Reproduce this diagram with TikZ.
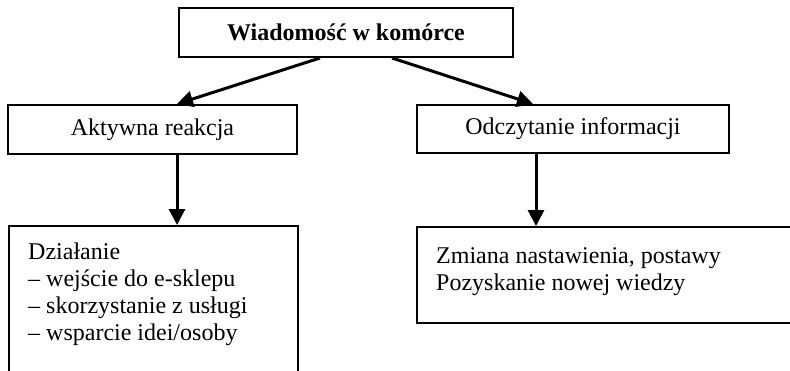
\documentclass[tikz,border=0pt]{standalone}
\usepackage{fontspec}
\setmainfont{Liberation Serif}
\usetikzlibrary{arrows.meta}
\usetikzlibrary{positioning}

\begin{document}
\begin{tikzpicture}[x=1pt,y=-1pt,
        box/.style={draw,line width=2pt,inner sep=0pt},
        txt/.style={align=left,inner sep=0pt,font=\fontsize{24}{27}\selectfont},
        arr/.style={line width=3pt,-{Triangle[length=16pt,width=16pt]}}]
                \useasboundingbox (0,0) rectangle (790,370);
                \clip (0,0) rectangle (790,370);
                \node[box,minimum width=334pt,minimum height=49pt,font=\fontsize{24}{27}\selectfont\bfseries] (msg) at (346,32.5) {Wiadomość w komórce};
                \node[box,minimum width=289pt,minimum height=49pt,font=\fontsize{24}{27}\selectfont] (akt) at (152.5,129.5) {Aktywna reakcja};
                \node[box,minimum width=312pt,minimum height=48pt,font=\fontsize{24}{27}\selectfont] (odc) at (573,129) {Odczytanie informacji};
                \node[box,minimum width=289pt,minimum height=170pt,anchor=north west] (act) at (8,225) {};
                \node[box,minimum width=390pt,minimum height=96pt,anchor=north west] (chg) at (416,226) {};
                \node[txt,anchor=north west] (act_txt) [below right=18pt and 20pt of act.north west] {Działanie\\– wejście do e-sklepu\\– skorzystanie z usługi\\– wsparcie idei/osoby};
                \node[txt,anchor=north west] (chg_txt) [below right=21pt and 20pt of chg.north west] {Zmiana nastawienia, postawy\\Pozyskanie nowej wiedzy};
                \path[arr]
                    ([xshift=-26pt]msg.south) edge ([xshift=24.5pt]akt.north)
                    ([xshift=46pt]msg.south) edge ([xshift=-40pt]odc.north)
                    ([xshift=24.5pt]akt.south) edge ([xshift=24.5pt]akt.south |- act.north)
                    ([xshift=-37pt]odc.south) edge ([xshift=-37pt]odc.south |- chg.north);
            \end{tikzpicture}
\end{document}
